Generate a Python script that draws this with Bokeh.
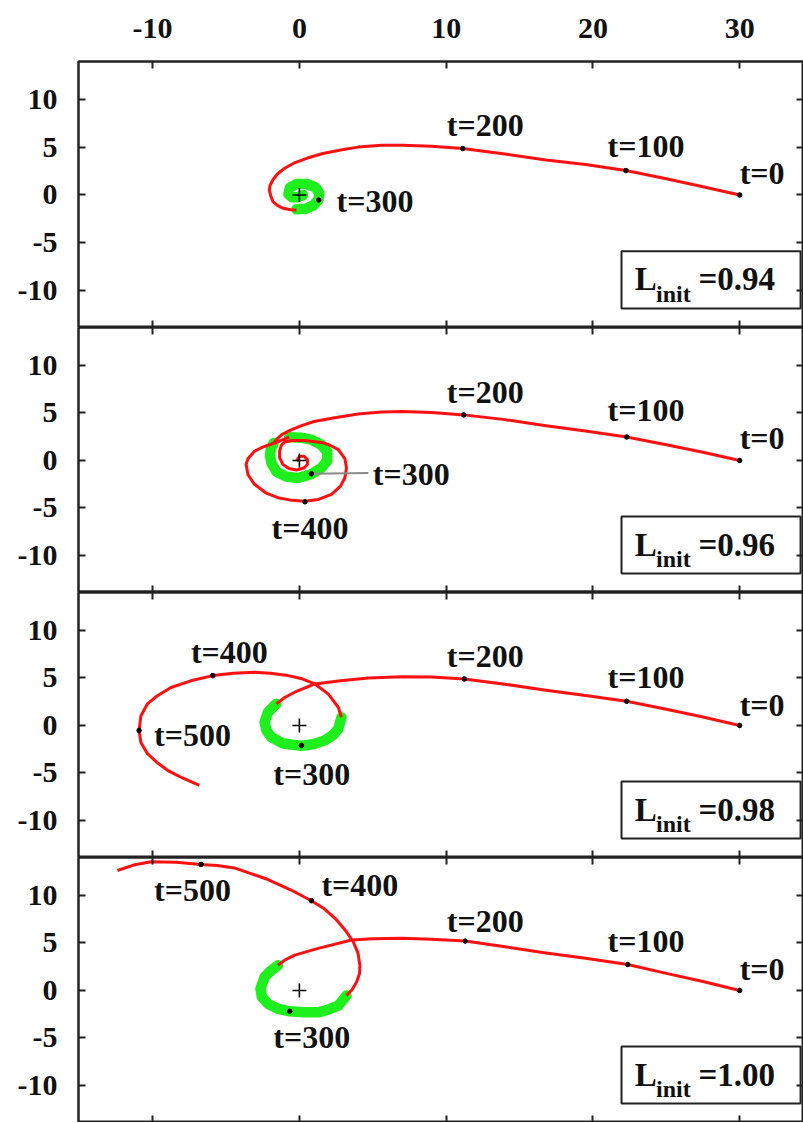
from bokeh.plotting import figure
from bokeh.models import Range1d, LinearAxis, FixedTicker
from bokeh.layouts import column
from bokeh.embed import file_html
from bokeh.resources import INLINE
from bokeh.core.properties import value

# ---------------- data ----------------
X_TICKS = [-10, 0, 10, 20, 30]
Y_TICKS = [-10, -5, 0, 5, 10]
X_TICK_LABELS = ["-10", "0", "10", "20", "30"]
Y_TICK_LABELS = ["-10", "-5", "0", "5", "10"]
L_INIT = ["0.94", "0.96", "0.98", "1.00"]

# Panel 1 (L_init = 0.94)
P1_RED_X = [[30, 27.5, 25, 22.25, 19.5, 16.8, 14, 11.13, 9, 7, 5.6, 4, 2.9, 1.6, 0.6, -0.3, -1.0, -1.5,
             -1.8, -2.0, -2.05, -1.95, -1.8, -1.5, -1.1, -0.6, -0.2]]
P1_RED_Y = [[0, 0.87, 1.7, 2.56, 3.2, 3.68, 4.3, 4.87, 5.1, 5.22, 5.22, 5.02, 4.75, 4.35, 3.9, 3.4, 2.8, 2.2,
             1.6, 1.0, 0.5, -0.1, -0.7, -1.1, -1.4, -1.55, -1.58]]
P1_GREEN_X = [-0.2, 0.4, 0.95, 1.3, 1.35, 1.1, 0.5, -0.2, -0.65, -0.75, -0.5, -0.1, 0.25]
P1_GREEN_Y = [-1.5, -1.45, -1.1, -0.5, 0.2, 0.8, 1.15, 1.15, 0.75, 0.1, -0.25, -0.25, 0.0]
P1_DOT_X = [30, 22.25, 11.13, 1.32]
P1_DOT_Y = [0, 2.56, 4.87, -0.53]
P1_LAB_T = ["t=0", "t=100", "t=200", "t=300"]
P1_LAB_X = [30.0, 21.0, 10.05, 2.53]
P1_LAB_Y = [2.3, 5.15, 7.37, -0.68]

# Panel 2 (L_init = 0.96)
P2_RED_X = [[30, 27.5, 25, 22.3, 19.5, 16.8, 14, 11.2, 9, 7, 5.6, 4, 2.4, 1.0, 0.1, -0.6, -1.2, -1.57, -1.75],
            [-0.7, -1.2, -1.69, -2.5, -3.06, -3.5, -3.63, -3.5, -3.06, -2.3, -1.46, -0.5, 0.36, 1.3, 2.19,
             2.8, 3.1, 3.21, 3.1, 2.65, 2.1, 1.5, 0.36, -0.5, -1.0, -1.23, -1.35, -1.35, -1.12, -0.7, -0.2,
             0.3, 0.55, 0.55, 0.3, 0.02, -0.14, -0.05]]
P2_RED_Y = [[0, 0.87, 1.65, 2.47, 3.1, 3.65, 4.3, 4.8, 5.05, 5.15, 5.1, 4.9, 4.5, 4.1, 3.65, 3.2, 2.72, 2.2, 1.85],
            [2.45, 2.15, 1.84, 1.4, 0.97, 0.2, -0.42, -1.5, -2.51, -3.4, -3.92, -4.2, -4.3, -4.1, -3.56,
             -2.7, -1.82, -0.8, 0.2, 1.15, 1.6, 1.9, 2.1, 2.1, 1.95, 1.6, 0.97, 0.3, -0.42, -0.85, -1.0,
             -0.8, -0.42, 0.1, 0.45, 0.45, 0.1, -0.1]]
P2_GREEN_X = [-1.75, -1.95, -2.0, -1.9, -1.55, -0.9, -0.1, 0.8, 1.5, 1.9, 1.9, 1.5, 0.8, 0.1, -0.7]
P2_GREEN_Y = [1.85, 1.2, 0.5, -0.3, -1.2, -1.7, -1.85, -1.45, -0.8, 0.0, 0.9, 1.65, 2.2, 2.4, 2.45]
P2_DOT_X = [30, 22.3, 11.2, 0.82, 0.38]
P2_DOT_Y = [0, 2.47, 4.8, -1.4, -4.35]
P2_LAB_T = ["t=0", "t=100", "t=200", "t=300", "t=400"]
P2_LAB_X = [30.0, 21.0, 10.05, 5.0, -1.9]
P2_LAB_Y = [2.4, 5.27, 7.26, -1.43, -7.1]
P2_LEADER_X = [0.82, 4.7]
P2_LEADER_Y = [-1.4, -1.32]

# Panel 3 (L_init = 0.98)
P3_RED_X = [[30, 27.5, 25, 22.3, 19.5, 16.8, 14, 11.24, 9, 7, 4.7, 2.8, 1.05, -0.32, -1.0, -1.57],
            [2.87, 2.65, 1.96, 1.05, 0.1, -0.77, -2, -3.06, -4.5, -5.9, -7.4, -8.75, -9.7, -10.35, -10.8,
             -10.92, -10.8, -10.35, -9.7, -8.98, -8.0, -6.82]]
P3_RED_Y = [[0, 0.9, 1.7, 2.55, 3.15, 3.7, 4.35, 4.9, 5.1, 5.14, 5.0, 4.7, 4.37, 3.5, 2.95, 2.28],
            [0.87, 1.92, 3.33, 4.37, 4.95, 5.25, 5.5, 5.6, 5.5, 5.25, 4.7, 4.0, 3.1, 2.28, 1.0,
             -0.52, -1.8, -2.97, -3.9, -4.72, -5.5, -6.3]]
P3_GREEN_X = [-1.57, -2.14, -2.37, -2.25, -1.92, -1.1, 0.14, 1.0, 1.73, 2.3, 2.65, 2.87]
P3_GREEN_Y = [2.28, 1.4, 0.35, -0.5, -1.23, -1.9, -2.15, -1.95, -1.57, -1.0, -0.35, 0.87]
P3_DOT_X = [30, 22.3, 11.24, 0.14, -5.9, -10.92]
P3_DOT_Y = [0, 2.55, 4.9, -2.1, 5.25, -0.52]
P3_LAB_T = ["t=0", "t=100", "t=200", "t=300", "t=400", "t=500"]
P3_LAB_X = [30.0, 21.0, 10.05, -1.78, -7.39, -9.9]
P3_LAB_Y = [2.2, 5.09, 7.35, -5.14, 7.78, -1.05]

# Panel 4 (L_init = 1.00)
P4_RED_X = [[30, 27.5, 25, 22.37, 19.5, 16.8, 14, 11.3, 9, 6.98, 5, 3.56, 1.28, -0.32, -1.0, -1.46],
            [3.21, 3.6, 3.9, 4.1, 4.12, 4.0, 3.67, 3.1, 2.43, 1.7, 0.82, -0.6, -2.14, -3.3, -4.43, -5.6,
             -6.7, -8.4, -10.1, -11.3, -12.4]]
P4_RED_Y = [[0, 0.95, 1.8, 2.73, 3.4, 3.95, 4.6, 5.2, 5.4, 5.49, 5.45, 5.31, 4.43, 3.72, 3.2, 2.65],
            [-0.53, 0.1, 0.89, 1.8, 2.65, 3.9, 5.13, 6.4, 7.6, 8.6, 9.45, 10.6, 11.68, 12.3, 12.9, 13.15,
             13.27, 13.5, 13.55, 13.2, 12.63]]
P4_GREEN_X = [-1.46, -2.0, -2.37, -2.65, -2.55, -2.14, -1.5, -0.66, 0.3, 1.28, 2.0, 2.65, 3.21]
P4_GREEN_Y = [2.65, 2.0, 1.42, 0.18, -0.7, -1.41, -1.9, -2.19, -2.3, -2.3, -2.0, -1.59, -0.53]
P4_DOT_X = [30, 22.37, 11.3, -0.66, 0.82, -6.7]
P4_DOT_Y = [0, 2.73, 5.2, -2.19, 9.45, 13.27]
P4_LAB_T = ["t=0", "t=100", "t=200", "t=300", "t=400", "t=500"]
P4_LAB_X = [30.0, 21.0, 10.05, -1.78, 1.5, -9.9]
P4_LAB_Y = [2.3, 5.22, 7.35, -4.95, 11.06, 10.6]

PANELS = [
    dict(rx=P1_RED_X, ry=P1_RED_Y, gx=P1_GREEN_X, gy=P1_GREEN_Y, dx=P1_DOT_X, dy=P1_DOT_Y,
         lt=P1_LAB_T, lx=P1_LAB_X, ly=P1_LAB_Y, leader=None, L=L_INIT[0]),
    dict(rx=P2_RED_X, ry=P2_RED_Y, gx=P2_GREEN_X, gy=P2_GREEN_Y, dx=P2_DOT_X, dy=P2_DOT_Y,
         lt=P2_LAB_T, lx=P2_LAB_X, ly=P2_LAB_Y, leader=(P2_LEADER_X, P2_LEADER_Y), L=L_INIT[1]),
    dict(rx=P3_RED_X, ry=P3_RED_Y, gx=P3_GREEN_X, gy=P3_GREEN_Y, dx=P3_DOT_X, dy=P3_DOT_Y,
         lt=P3_LAB_T, lx=P3_LAB_X, ly=P3_LAB_Y, leader=None, L=L_INIT[2]),
    dict(rx=P4_RED_X, ry=P4_RED_Y, gx=P4_GREEN_X, gy=P4_GREEN_Y, dx=P4_DOT_X, dy=P4_DOT_Y,
         lt=P4_LAB_T, lx=P4_LAB_X, ly=P4_LAB_Y, leader=None, L=L_INIT[3]),
]

# ---------------- styling ----------------
FONT = "Liberation Serif"
INK = "#111111"
FRAME = "#222222"


def make_axis(ticks, labels, show, standoff=21, line_width=2):
    ax = LinearAxis(ticker=FixedTicker(ticks=ticks))
    ax.axis_line_color = FRAME
    ax.axis_line_width = line_width
    ax.major_tick_in = 7
    ax.major_tick_out = 0
    ax.minor_tick_in = 0
    ax.minor_tick_out = 0
    ax.major_tick_line_color = FRAME
    ax.major_tick_line_width = 2
    if show:
        ax.major_label_overrides = {t: s for t, s in zip(ticks, labels)}
        ax.major_label_text_font = FONT
        ax.major_label_text_font_style = "bold"
        ax.major_label_text_font_size = "30px"
        ax.major_label_text_color = INK
        ax.major_label_standoff = standoff
    else:
        ax.major_label_text_font_size = "1px"
        ax.major_label_text_color = None
        ax.major_label_standoff = 0
    return ax


figs = []
for i, pan in enumerate(PANELS):
    top = 61 if i == 0 else 0
    p = figure(width=803, height=266 + top if i == 0 else 265,
               x_range=Range1d(-15.05, 34.35), y_range=Range1d(-13.9, 14.0),
               x_axis_location=None, y_axis_location=None,
               output_backend="svg", toolbar_location=None,
               min_border_left=78, min_border_right=0, min_border_top=top, min_border_bottom=0)
    p.xgrid.grid_line_color = None
    p.ygrid.grid_line_color = None
    p.outline_line_color = FRAME
    p.outline_line_width = 2
    p.background_fill_color = "white"
    p.border_fill_color = "white"

    p.add_layout(make_axis(X_TICKS, X_TICK_LABELS, i == 0, standoff=24), "above")
    p.add_layout(make_axis(X_TICKS, X_TICK_LABELS, False, line_width=4 if i == 1 else 2), "below")
    p.add_layout(make_axis(Y_TICKS, Y_TICK_LABELS, True), "left")
    p.add_layout(make_axis(Y_TICKS, Y_TICK_LABELS, False), "right")

    # green thick part of the trajectory
    p.line(pan["gx"], pan["gy"], line_color="#1ef01e", line_width=10.5,
           line_cap="round", line_join="round")
    # red trajectory
    p.multi_line(pan["rx"], pan["ry"], line_color="#ff1010", line_width=3,
                 line_join="round")
    if pan["leader"] is not None:
        p.line(pan["leader"][0], pan["leader"][1], line_color="#8a8a8a", line_width=2)
    # time markers
    p.scatter(pan["dx"], pan["dy"], size=4.5, color="black")
    # centre cross
    p.scatter([0], [0], marker="cross", size=14, line_color="black", line_width=1.6)
    # time labels
    p.text(pan["lx"], pan["ly"], text=pan["lt"], text_font=value(FONT),
           text_font_style="bold", text_font_size="32px", text_color=INK,
           text_baseline="middle", text_align="left")

    # L_init box
    p.quad(left=[21.95], right=[34.15], top=[-5.9], bottom=[-11.9],
           fill_color="white", line_color=FRAME, line_width=2)
    p.text([22.85], [-8.85], text=["L"], text_font=value(FONT), text_font_style="bold",
           text_font_size="33px", text_color=INK, text_baseline="middle")
    p.text([24.3], [-10.35], text=["init"], text_font=value(FONT), text_font_style="bold",
           text_font_size="24px", text_color=INK, text_baseline="middle")
    p.text([27.2], [-8.85], text=["=" + pan["L"]], text_font=value(FONT), text_font_style="bold",
           text_font_size="33px", text_color=INK, text_baseline="middle")
    figs.append(p)

layout = column(*figs, spacing=0)
open("out.html", "w").write(file_html(layout, INLINE))
